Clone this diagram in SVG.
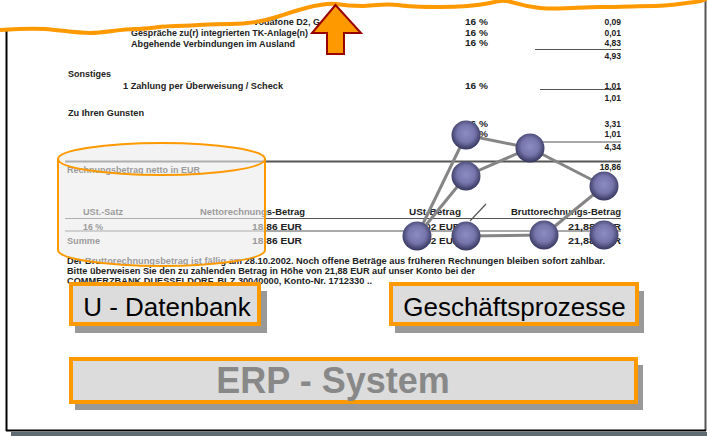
<svg xmlns="http://www.w3.org/2000/svg" width="707" height="436" viewBox="0 0 707 436">
<defs>
<radialGradient id="sph" cx="50%" cy="45%" r="55%">
<stop offset="0" stop-color="#8c8cc4"/>
<stop offset="0.55" stop-color="#7676ac"/>
<stop offset="1" stop-color="#35355c"/>
</radialGradient>
<style>
.inv{font-family:"Liberation Sans",Arial,sans-serif;font-weight:bold;font-size:8.5px;fill:#222}
.num{text-anchor:end}
.rule{stroke:#555;stroke-width:1.2}
.edge{stroke:#858585;stroke-width:3;fill:none}
.box{fill:#dcdcdc;stroke:#ff9900;stroke-width:4}
.shadow{fill:#999}
.lbl{font-family:"Liberation Sans",Arial,sans-serif;font-size:26px;fill:#000;text-anchor:middle}
.node{fill:url(#sph)}
</style>
</defs>
<rect width="707" height="436" fill="#fff"/>

<g id="invoice">
<text class="inv" x="253" y="25" textLength="67" lengthAdjust="spacingAndGlyphs">Vodafone D2, G</text>
<text class="inv" x="131" y="36" textLength="177" lengthAdjust="spacingAndGlyphs">Gespräche zu(r) integrierten TK-Anlage(n)</text>
<text class="inv" x="131" y="46.5" textLength="164" lengthAdjust="spacingAndGlyphs">Abgehende Verbindungen im Ausland</text>
<text class="inv" x="68" y="77" textLength="43" lengthAdjust="spacingAndGlyphs">Sonstiges</text>
<text class="inv" x="123" y="88.5" textLength="160" lengthAdjust="spacingAndGlyphs">1 Zahlung per Überweisung / Scheck</text>
<text class="inv" x="68" y="115.5" textLength="76" lengthAdjust="spacingAndGlyphs">Zu Ihren Gunsten</text>
<g>
<text class="inv" x="465" y="25" textLength="23" lengthAdjust="spacingAndGlyphs">16 %</text>
<text class="inv" x="465" y="35.5" textLength="23" lengthAdjust="spacingAndGlyphs">16 %</text>
<text class="inv" x="465" y="46" textLength="23" lengthAdjust="spacingAndGlyphs">16 %</text>
<text class="inv" x="465" y="88.5" textLength="23" lengthAdjust="spacingAndGlyphs">16 %</text>
<text class="inv" x="465" y="127" textLength="23" lengthAdjust="spacingAndGlyphs">16 %</text>
<text class="inv" x="465" y="137" textLength="23" lengthAdjust="spacingAndGlyphs">16 %</text>
</g>
<g>
<text class="inv num" x="621" y="24.5">0,09</text>
<text class="inv num" x="621" y="35.5">0,01</text>
<text class="inv num" x="621" y="45.5">4,83</text>
<text class="inv num" x="621" y="58.5">4,93</text>
<text class="inv num" x="621" y="88.5">1,01</text>
<text class="inv num" x="621" y="100.5">1,01</text>
<text class="inv num" x="621" y="127">3,31</text>
<text class="inv num" x="621" y="137">1,01</text>
<text class="inv num" x="621" y="150">4,34</text>
<text class="inv num" x="621" y="170">18,86</text>
</g>
<line class="rule" x1="535" y1="49.5" x2="621" y2="49.5"/>
<line class="rule" x1="540" y1="89.5" x2="621" y2="89.5"/>
<line class="rule" x1="543" y1="142" x2="621" y2="142"/>
<line class="rule" x1="65" y1="161.5" x2="621" y2="161.5" style="stroke-width:2"/>
<line class="rule" x1="65" y1="218.5" x2="621" y2="218.5"/>
<line class="rule" x1="65" y1="231" x2="621" y2="231"/>
<text class="inv" x="67" y="172.5" textLength="133" lengthAdjust="spacingAndGlyphs">Rechnungsbetrag netto in EUR</text>
<text class="inv" x="83" y="214.5" textLength="40" lengthAdjust="spacingAndGlyphs">USt.-Satz</text>
<text class="inv" x="200" y="214.5" textLength="105" lengthAdjust="spacingAndGlyphs">Nettorechnungs-Betrag</text>
<text class="inv" x="409" y="214.5" textLength="52" lengthAdjust="spacingAndGlyphs">USt-Betrag</text>
<text class="inv" x="511" y="214.5" textLength="110" lengthAdjust="spacingAndGlyphs">Bruttorechnungs-Betrag</text>
<text class="inv" x="83" y="229.5" textLength="20" lengthAdjust="spacingAndGlyphs">16 %</text>
<text class="inv" x="252" y="229.5" textLength="50" lengthAdjust="spacingAndGlyphs">18,86  EUR</text>
<text class="inv" x="417" y="229.5" textLength="43" lengthAdjust="spacingAndGlyphs">3,02  EUR</text>
<text class="inv" x="568" y="229.5" textLength="53" lengthAdjust="spacingAndGlyphs">21,88  EUR</text>
<text class="inv" x="67" y="243.5" textLength="33" lengthAdjust="spacingAndGlyphs">Summe</text>
<text class="inv" x="252" y="243.5" textLength="50" lengthAdjust="spacingAndGlyphs">18,86  EUR</text>
<text class="inv" x="417" y="243.5" textLength="43" lengthAdjust="spacingAndGlyphs">3,02  EUR</text>
<text class="inv" x="568" y="243.5" textLength="53" lengthAdjust="spacingAndGlyphs">21,88  EUR</text>
<text class="inv" x="67" y="263.5" textLength="538" lengthAdjust="spacingAndGlyphs">Der Bruttorechnungsbetrag ist fällig am 28.10.2002. Noch offene Beträge aus früheren Rechnungen bleiben sofort zahlbar.</text>
<text class="inv" x="67" y="273.5" textLength="408" lengthAdjust="spacingAndGlyphs">Bitte überweisen Sie den zu zahlenden Betrag in Höhe von 21,88 EUR auf unser Konto bei der</text>
<text class="inv" x="67" y="283.5" textLength="305" lengthAdjust="spacingAndGlyphs">COMMERZBANK DUESSELDORF, BLZ 30040000, Konto-Nr. 1712330 ..</text>
</g>

<g id="u-datenbank-cylinder">
<path d="M58,159 L58,250 A103.5,16 0 0 0 265,250 L265,159 A103.5,16 0 0 0 58,159 Z" fill="#ebebeb" fill-opacity="0.6"/>
<path d="M58,159 L58,250 A103.5,16 0 0 0 265,250 L265,159" fill="none" stroke="#ff9900" stroke-width="2"/>
<ellipse cx="161.5" cy="159" rx="103.5" ry="16" fill="none" stroke="#ff9900" stroke-width="2"/>
</g>

<g id="connectors">
<line class="edge" x1="466" y1="135" x2="530" y2="148"/>
<line class="edge" x1="466" y1="176" x2="530" y2="148"/>
<line class="edge" x1="530" y1="148" x2="604" y2="186"/>
<line class="edge" x1="417" y1="236" x2="466" y2="135"/>
<line class="edge" x1="417" y1="236" x2="466" y2="176"/>
<line class="edge" x1="466" y1="236" x2="544" y2="235"/>
<line class="edge" x1="544" y1="235" x2="604" y2="186"/>
<line x1="470" y1="221" x2="486" y2="204" stroke="#555" stroke-width="1.2"/>
</g>

<g id="n1"><circle class="node" cx="466" cy="135" r="14.5"/></g>
<g id="n2"><circle class="node" cx="530" cy="148" r="14.5"/></g>
<g id="n3"><circle class="node" cx="466" cy="176" r="14.5"/></g>
<g id="n4"><circle class="node" cx="604" cy="186" r="14.5"/></g>
<g id="n5"><circle class="node" cx="417" cy="236" r="14.5"/></g>
<g id="n6"><circle class="node" cx="466" cy="236" r="14.5"/></g>
<g id="n7"><circle class="node" cx="544" cy="235" r="14.5"/></g>
<g id="n8"><circle class="node" cx="604" cy="235" r="14.5"/></g>

<g id="box-datenbank">
<rect class="shadow" x="75" y="291" width="192" height="42"/>
<rect class="box" x="71" y="284" width="188" height="40"/>
<text class="lbl" x="167" y="315.5">U - Datenbank</text>
</g>
<g id="box-prozesse">
<rect class="shadow" x="395" y="291" width="249" height="42"/>
<rect class="box" x="391" y="284" width="246" height="40"/>
<text class="lbl" x="514.5" y="315.5">Geschäftsprozesse</text>
</g>
<g id="box-erp">
<rect class="shadow" x="75" y="365" width="568" height="45"/>
<rect class="box" x="71" y="359" width="565" height="43"/>
<text x="333" y="393" font-family="Liberation Sans, Arial, sans-serif" font-size="36" font-weight="bold" fill="#888" text-anchor="middle">ERP - System</text>
</g>

<g id="frame">
<rect x="11" y="432" width="696" height="4" fill="#5f6b73"/>
<line x1="705.5" y1="0" x2="705.5" y2="431" stroke="#555" stroke-width="2"/>
<line x1="6.5" y1="20" x2="6.5" y2="431" stroke="#000" stroke-width="2"/>
<line x1="6" y1="430.5" x2="706" y2="430.5" stroke="#000" stroke-width="2"/>
</g>

<g id="wave">
<path d="M0,30 C15,29 30,28 45,29 S75,33 90,33 S120,29 135,29 S160,26 175,26 S210,24 230,24 S265,21 280,16 S310,6 320,5 S330,3 336,4 S352,6 362,6 S385,3 398,5 S420,7 440,7 S480,5 490,3 S500,0 507,1 S520,6 540,8 S580,7 600,7 S640,6 655,6 S685,3 695,2 S704,-1 707,-1 L707,0 L0,0 Z" fill="#fff"/>
<path d="M0,30 C15,29 30,28 45,29 S75,33 90,33 S120,29 135,29 S160,26 175,26 S210,24 230,24 S265,21 280,16 S310,6 320,5 S330,3 336,4 S352,6 362,6 S385,3 398,5 S420,7 440,7 S480,5 490,3 S500,0 507,1 S520,6 540,8 S580,7 600,7 S640,6 655,6 S685,3 695,2 S704,-1 707,-1" fill="none" stroke="#ff9900" stroke-width="4"/>
</g>

<g id="arrow">
<polygon points="335.5,5 312,33 327,33 327,54 344,54 344,33 361,33" fill="#ff9900" stroke="#990000" stroke-width="2" stroke-linejoin="miter"/>
</g>
</svg>
